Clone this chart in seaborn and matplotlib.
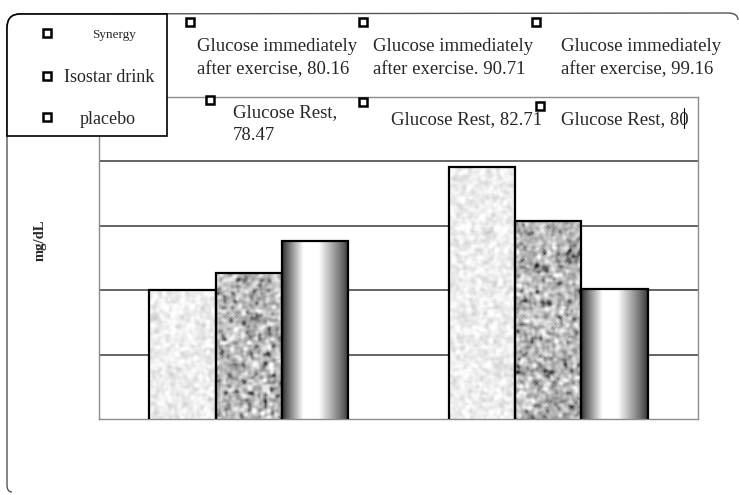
import numpy as np
import pandas as pd
import matplotlib.pyplot as plt
import seaborn as sns
from matplotlib.path import Path
from matplotlib.patches import PathPatch
from matplotlib.lines import Line2D

# values (axis 60..110, gridlines every 10)
times = ["Glucose Rest", "Glucose immediately after exercise"]
drinks = ["Synergy", "Isostar drink", "placebo"]
synergy = [80.0, 99.16]
isostar = [82.71, 90.71]
placebo = [87.6, 80.16]

# the (mis-placed) data labels printed on the chart
rest_labels = ["78.47", "82.71", "80"]
exercise_labels = ["80.16", "90.71", "99.16"]

W, H = 739, 495

df = pd.DataFrame({
    "time": times * 3,
    "drink": [d for d in drinks for _ in times],
    "value": synergy + isostar + placebo,
})

sns.set_style("white")
plt.rcParams["font.family"] = ["Liberation Serif", "DejaVu Serif"]

fig = plt.figure(figsize=(W / 100, H / 100), dpi=100)
ax = fig.add_axes([99 / W, 1 - 419 / H, (698 - 99) / W, (419 - 97) / H])

sns.barplot(data=df, x="time", y="value", hue="drink", order=times,
            hue_order=drinks, width=0.665, edgecolor="black", linewidth=1.6,
            legend=False, ax=ax, zorder=3)

ax.set_ylim(60, 110)
ax.set_xlim(-0.5, 1.5)
for yv in [70, 80, 90, 100]:
    ax.axhline(yv, color="#3a3a3a", lw=1.1, zorder=0.5)
ax.set_xticks([])
ax.set_yticks([])
ax.set_xlabel("")
ax.set_ylabel("")
for s in ax.spines.values():
    s.set_color("#8c8c8c")
    s.set_linewidth(1.0)


def blur(a, n=2):
    for _ in range(n):
        a = (a + np.roll(a, 1, 0) + np.roll(a, -1, 0) + np.roll(a, 1, 1) + np.roll(a, -1, 1)) / 5
    return a


rng = np.random.default_rng(3)
px_per_unit = 322 / 50


def texture(kind, h):
    rows = max(int((h - 60) * px_per_unit / 1.5), 4)
    if kind == 0:
        t = blur(rng.normal(0, 1, (rows, 44)), 2)
        return np.clip(0.93 + 0.04 * t / t.std(), 0, 1)
    if kind == 1:
        t = blur(rng.normal(0, 1, (rows, 44)), 2)
        t = t / t.std()
        return np.clip(0.72 + 0.11 * t - 0.12 * np.clip(-t - 1.0, 0, None), 0, 1)
    gx = np.linspace(0, 1, 200)
    prof = np.interp(gx, [0, 0.06, 0.32, 0.55, 0.88, 1], [0.18, 0.35, 1.0, 1.0, 0.45, 0.22])
    return np.tile(prof, (10, 1))


for k, cont in enumerate(ax.containers):
    for p in cont.patches:
        x0, w, h = p.get_x(), p.get_width(), p.get_height()
        im = ax.imshow(texture(k, h), cmap="gray", vmin=0, vmax=1, aspect="auto",
                       extent=[x0, x0 + w, 60, h], zorder=2.5, interpolation="bilinear")
        im.set_clip_path(p)
        p.set_facecolor("none")
        p.set_zorder(3)
ax.set_ylim(60, 110)
ax.set_xlim(-0.5, 1.5)


def fx(x):
    return x / W


def fy(y):
    return 1 - y / H


# outer rounded frame (left and top edges)
verts = [(12, 492), (7, 492), (7, 485), (7, 28), (7, 14), (20, 14), (728, 13), (738, 13), (738, 20)]
codes = [Path.MOVETO, Path.CURVE3, Path.CURVE3, Path.LINETO, Path.CURVE3, Path.CURVE3,
         Path.LINETO, Path.CURVE3, Path.CURVE3]
fig.add_artist(PathPatch(Path([(fx(a), fy(b)) for a, b in verts], codes),
                         transform=fig.transFigure, facecolor="none", edgecolor="#555555", lw=1.0))

# legend box
verts = [(20, 14), (7, 14), (7, 28), (7, 136), (167, 136), (167, 14), (20, 14)]
codes = [Path.MOVETO, Path.CURVE3, Path.CURVE3, Path.LINETO, Path.LINETO, Path.LINETO, Path.CLOSEPOLY]
fig.add_artist(PathPatch(Path([(fx(a), fy(b)) for a, b in verts], codes),
                         transform=fig.transFigure, facecolor="white", edgecolor="black", lw=1.2, zorder=5))


def marker(x, y):
    fig.add_artist(Line2D([fx(x)], [fy(y)], marker="s", markersize=5.5, markerfacecolor="white",
                          markeredgecolor="black", markeredgewidth=1.8, transform=fig.transFigure, zorder=6))


for (mx, my), (tx, size), name in zip([(47, 33), (47, 76), (47, 117)],
                                      [(92, 9.5), (64, 13), (80, 13)], drinks):
    marker(mx, my)
    fig.text(fx(tx), fy(my + 2), name, fontsize=size, va="center", ha="left", zorder=6)

# data labels
for (mx, my), (tx, ty), val in zip([(190, 22), (363, 22), (536, 22)],
                                   [(197, 38), (373, 38), (561, 38)], exercise_labels):
    marker(mx, my)
    sep = "." if val == "90.71" else ","
    fig.text(fx(tx), fy(ty), f"Glucose immediately\nafter exercise{sep} {val}", fontsize=13.5,
             va="top", ha="left", linespacing=1.5, zorder=6)

marker(210, 100)
fig.text(fx(233), fy(104), f"Glucose Rest,\n{rest_labels[0]}", fontsize=13.5, va="top", ha="left",
         linespacing=1.5, zorder=6)
marker(363, 102)
fig.text(fx(391), fy(111), f"Glucose Rest, {rest_labels[1]}", fontsize=13.5, va="top", ha="left", zorder=6)
marker(540, 106)
fig.text(fx(561), fy(111), f"Glucose Rest, {rest_labels[2]}", fontsize=13.5, va="top", ha="left", zorder=6)
fig.add_artist(Line2D([fx(684), fx(684)], [fy(108), fy(128)], color="black", lw=0.8,
                      transform=fig.transFigure))

fig.text(fx(40), fy(240), "mg/dL", rotation=90, fontsize=10.5, fontweight="bold",
         va="center", ha="center")

fig.savefig("out.png", dpi=100)
